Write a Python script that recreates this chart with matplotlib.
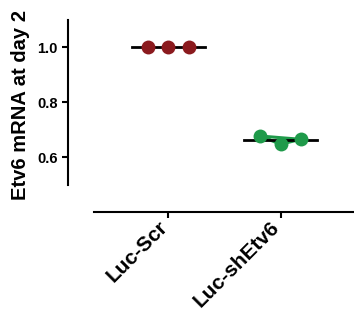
import matplotlib
matplotlib.use("Agg")
import matplotlib.pyplot as plt
import matplotlib.transforms as mtransforms
import numpy as np

groups = ["Luc-Scr", "Luc-shEtv6"]
scr_values = [1.0, 1.0, 1.0]
shetv6_values = [0.677, 0.647, 0.665]
colors = ["#8b1a1e", "#1f9a4a"]

plt.rcParams["font.family"] = ["Liberation Sans", "DejaVu Sans"]
plt.rcParams["font.weight"] = "bold"

fig = plt.figure(figsize=(3.54, 3.22), dpi=100)
ax = fig.add_axes([68 / 354, 110 / 322, 286 / 354, 192 / 322])

offsets = np.array([-0.18, 0.0, 0.18])
for i, vals in enumerate([scr_values, shetv6_values]):
    vals = np.array(vals)
    xs = i + offsets
    mean = vals.mean()
    ax.plot([i - 0.33, i + 0.33], [mean, mean], color="black", lw=2, zorder=2)
    if i == 1:
        # connecting outline seen around the green points
        ax.plot(np.append(xs, xs[0]), np.append(vals, vals[0]), color=colors[i], lw=2.2, zorder=1)
    ax.plot(xs, vals, "o", color=colors[i], markersize=10, markeredgewidth=0, zorder=3)

ax.set_xlim(-0.897, 1.656)
ax.set_ylim(0.4, 1.1)
ax.set_yticks([0.6, 0.8, 1.0])
ax.set_yticklabels(["0.6", "0.8", "1.0"], fontsize=10.5, fontweight="bold")
ax.set_xticks([0, 1])
ax.set_xticklabels(groups, fontsize=15, fontweight="bold", rotation=45, ha="right",
                   va="center", rotation_mode="anchor")

for side in ["top", "right"]:
    ax.spines[side].set_visible(False)
ax.spines["left"].set_bounds(0.5, 1.1)
ax.spines["bottom"].set_bounds(-0.662, 1.656)
ax.spines["left"].set_linewidth(1.5)
ax.spines["bottom"].set_linewidth(1.5)
ax.tick_params(axis="both", width=1.5, length=4.5, pad=3)
ax.tick_params(axis="x", pad=5)

# nudge rotated labels a little left
shift = mtransforms.ScaledTranslation(-4 / 100, 1 / 100, fig.dpi_scale_trans)
for label in ax.get_xticklabels():
    label.set_transform(label.get_transform() + shift)

ax.set_ylabel("Etv6 mRNA at day 2", fontsize=14.5, fontweight="bold")
ax.yaxis.set_label_coords(-0.133, 0.557)

fig.savefig("out.png", dpi=100)
